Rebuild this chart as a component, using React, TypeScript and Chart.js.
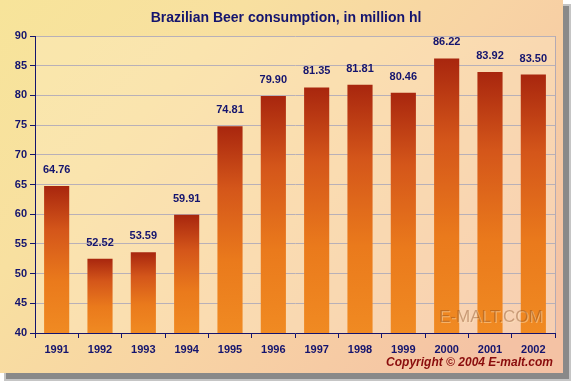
import React, { useEffect, useRef } from "react";
import { Chart, registerables } from "chart.js";
Chart.register(...registerables);

const years = ["1991", "1992", "1993", "1994", "1995", "1996", "1997", "1998", "1999", "2000", "2001", "2002"];
const consumption = [64.76, 52.52, 53.59, 59.91, 74.81, 79.9, 81.35, 81.81, 80.46, 86.22, 83.92, 83.5];
const yMin = 40;
const yMax = 90;
const yStep = 5;
const titleText = "Brazilian Beer consumption, in million hl";
const copyrightText = "Copyright \u00a9 2004 E-malt.com";
const watermarkText = "E-MALT.COM";

const NAVY = "#14146e";
const FONT = "'Liberation Sans', Arial, sans-serif";

export default function App() {
  const ref = useRef<HTMLCanvasElement>(null);
  useEffect(() => {
    document.body.style.margin = "0";
    const canvas = ref.current!;
    const W = 571, H = 381, CW = 563, CH = 373;

    const bgPlugin = {
      id: "bg",
      beforeDraw(chart: any) {
        const ctx = chart.ctx;
        ctx.save();
        ctx.fillStyle = "#ffffff";
        ctx.fillRect(0, 0, W, H);
        ctx.fillStyle = "rgba(90,90,90,0.55)";
        ctx.fillRect(6, 6, CW, CH);
        ctx.fillStyle = "rgba(90,90,90,0.35)";
        ctx.fillRect(4, 4, CW + 4, CH + 4);
        const g = ctx.createLinearGradient(0, 0, CW * 0.8, CH * 1.1);
        g.addColorStop(0, "#f7e49a");
        g.addColorStop(0.3, "#f8e0a0");
        g.addColorStop(0.6, "#f8d4a4");
        g.addColorStop(1, "#f4c2a4");
        ctx.fillStyle = g;
        ctx.fillRect(0, 0, CW, CH);
        const a = chart.chartArea;
        ctx.fillStyle = "rgba(255,240,210,0.3)";
        ctx.fillRect(a.left, a.top, a.right - a.left, a.bottom - a.top);
        ctx.restore();
      },
      afterDraw(chart: any) {
        const ctx = chart.ctx;
        const a = chart.chartArea;
        ctx.save();
        ctx.strokeStyle = "#b4aab4";
        ctx.lineWidth = 1;
        ctx.beginPath();
        ctx.moveTo(a.right + 0.5, a.top);
        ctx.lineTo(a.right + 0.5, a.bottom);
        ctx.stroke();
        ctx.fillStyle = NAVY;
        ctx.font = `bold 14px ${FONT}`;
        ctx.textAlign = "center";
        ctx.textBaseline = "alphabetic";
        ctx.fillText(titleText, 286, 22);
        ctx.fillStyle = "#8a0c0c";
        ctx.font = `italic bold 12px ${FONT}`;
        ctx.textAlign = "right";
        ctx.fillText(copyrightText, 553, 366);
        ctx.restore();
      },
    };

    const watermarkPlugin = {
      id: "wm",
      afterDatasetsDraw(chart: any) {
        const ctx = chart.ctx;
        ctx.save();
        ctx.font = `17px ${FONT}`;
        ctx.textAlign = "left";
        ctx.textBaseline = "alphabetic";
        ctx.fillStyle = "rgba(255,230,190,0.45)";
        ctx.fillText(watermarkText, 440, 323);
        ctx.fillStyle = "rgba(130,70,30,0.4)";
        ctx.fillText(watermarkText, 439, 322);
        ctx.restore();
      },
    };

    const labelPlugin = {
      id: "vals",
      afterDatasetsDraw(chart: any) {
        const ctx = chart.ctx;
        const meta = chart.getDatasetMeta(0);
        ctx.save();
        ctx.fillStyle = NAVY;
        ctx.font = `bold 11px ${FONT}`;
        ctx.textAlign = "center";
        ctx.textBaseline = "alphabetic";
        meta.data.forEach((el: any, i: number) => {
          ctx.fillText(consumption[i].toFixed(2), el.x, el.y - 13);
        });
        ctx.restore();
      },
    };

    const chart = new Chart(canvas, {
      type: "bar",
      data: {
        labels: years,
        datasets: [
          {
            data: consumption,
            backgroundColor: (c: any) => {
              const ys = c.chart.scales && c.chart.scales.y;
              if (!ys || c.dataIndex === undefined) return "#e07018";
              const top = ys.getPixelForValue(c.raw);
              const bottom = ys.getPixelForValue(yMin);
              if (!isFinite(top) || !isFinite(bottom) || bottom - top < 1) return "#e07018";
              const g = c.chart.ctx.createLinearGradient(0, top, 0, bottom);
              g.addColorStop(0, "#a8260e");
              g.addColorStop(0.3, "#d4561a");
              g.addColorStop(0.65, "#ea7a1c");
              g.addColorStop(1, "#f08a22");
              return g;
            },
            borderWidth: 0,
            barPercentage: 0.58,
            categoryPercentage: 1,
          },
        ],
      },
      options: {
        responsive: false,
        animation: false,
        layout: { padding: { left: 0, top: 36, right: 16, bottom: 0 } },
        plugins: {
          legend: { display: false },
          title: { display: false },
          tooltip: { enabled: false },
        },
        scales: {
          x: {
            offset: true,
            grid: {
              offset: true,
              drawOnChartArea: false,
              drawTicks: true,
              tickLength: 5,
              tickColor: NAVY,
            },
            border: { color: NAVY, width: 1 },
            ticks: {
              color: NAVY,
              font: { family: FONT, size: 11, weight: "bold" },
              padding: 5,
            },
            afterFit: (s: any) => {
              s.height = 48;
            },
          },
          y: {
            min: yMin,
            max: yMax,
            grid: {
              color: "#b8b0b8",
              tickColor: NAVY,
              tickLength: 5,
            },
            border: { color: NAVY, width: 1 },
            ticks: {
              stepSize: yStep,
              color: NAVY,
              font: { family: FONT, size: 11, weight: "bold" },
              padding: 3,
            },
            afterFit: (s: any) => {
              s.width = 35;
            },
          },
        },
      },
      plugins: [bgPlugin, watermarkPlugin, labelPlugin],
    } as any);
    return () => chart.destroy();
  }, []);
  return (
    <div style={{ width: 571, height: 381 }}>
      <canvas ref={ref} width={571} height={381} style={{ display: "block" }} />
    </div>
  );
}
